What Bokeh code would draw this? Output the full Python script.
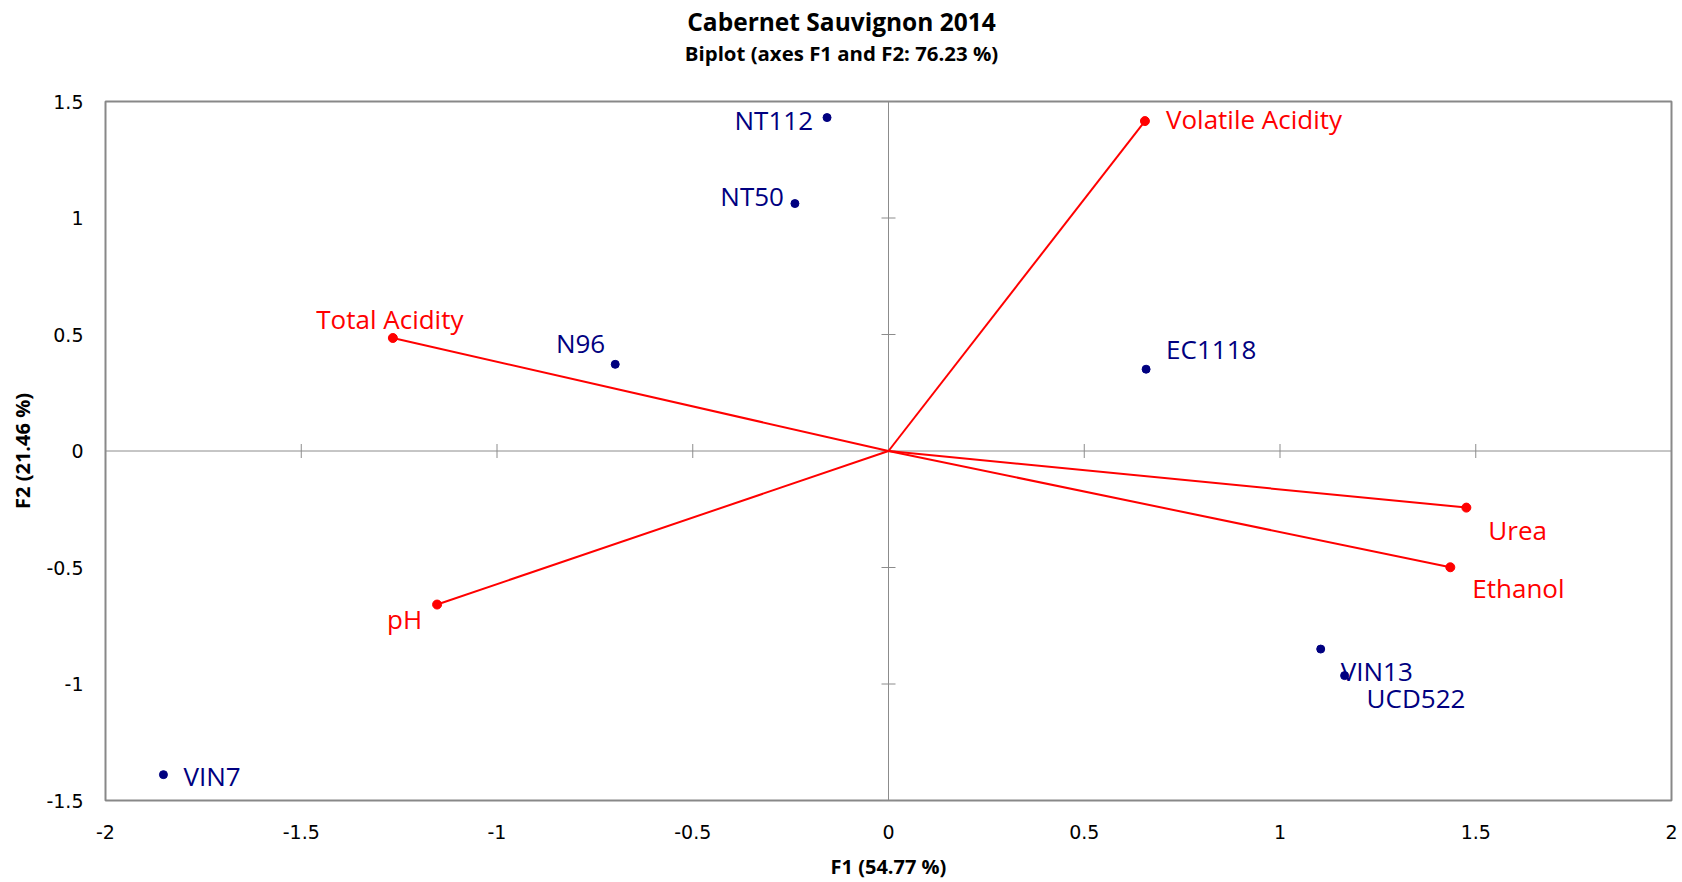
import math
from bokeh.plotting import figure
from bokeh.layouts import column
from bokeh.models import ColumnDataSource, Label, FixedTicker, Range1d, Span
from bokeh.core.properties import value
from bokeh.embed import file_html
from bokeh.resources import INLINE

# ---------------- data ----------------
title_text = "Cabernet Sauvignon 2014"
subtitle_text = "Biplot (axes F1 and F2: 76.23 %)"
x_title = "F1 (54.77 %)"
y_title = "F2 (21.46 %)"

obs_names = ["NT112", "NT50", "N96", "EC1118", "VIN13", "UCD522", "VIN7"]
obs_f1 = [-0.157, -0.239, -0.698, 0.658, 1.104, 1.165, -1.852]
obs_f2 = [1.431, 1.062, 0.372, 0.351, -0.850, -0.964, -1.389]

var_names = ["Volatile Acidity", "Total Acidity", "pH", "Urea", "Ethanol"]
var_f1 = [0.655, -1.266, -1.153, 1.476, 1.435]
var_f2 = [1.416, 0.485, -0.659, -0.243, -0.499]

x_ticks = [-2, -1.5, -1, -0.5, 0, 0.5, 1, 1.5, 2]
x_tick_labels = ["-2", "-1.5", "-1", "-0.5", "0", "0.5", "1", "1.5", "2"]
y_ticks = [-1.5, -1, -0.5, 0, 0.5, 1, 1.5]
y_tick_labels = ["-1.5", "-1", "-0.5", "0", "0.5", "1", "1.5"]

# ---------------- label placement (screen px, y down) ----------------
obs_align = ["right", "right", "right", "left", "left", "left", "left"]
obs_dx = [-14, -11, -10, 20, 20, 22, 20]
obs_dy = [2, -8, -21, -20, 22, 22, 1]

var_align = ["left", "center", "right", "left", "left"]
var_dx = [21, -3, -15, 22, 22]
var_dy = [-2, -19, 14, 22, 21]

# ---------------- styles ----------------
NAVY = "#000080"
RED = "#FF0000"
GRAY = "#8C8C8C"
LABEL_FONT = "Open Sans"
TICK_FONT = "DejaVu Sans"

W = 1680
TH = 70                      # height of the title strip
H = 882 - TH                 # height of the chart figure
BL, BR, BT, BB = 105, 9, 101 - TH, 82
PAGE_CX = 841                # horizontal centre of the page

# ---------------- title strip ----------------
t = figure(width=W, height=TH, output_backend="svg", toolbar_location=None,
           x_axis_location=None, y_axis_location=None,
           min_border_left=0, min_border_right=0, min_border_top=0, min_border_bottom=0)
t.grid.visible = False
t.outline_line_color = None
t.background_fill_color = "white"
t.border_fill_color = "white"
# the column aligns this strip's frame with the chart frame (left edge at BL)
t.add_layout(Label(x=PAGE_CX - BL, y=TH - 21, x_units="screen", y_units="screen",
                   text=title_text, text_align="center", text_baseline="middle",
                   text_font="Open Sans", text_font_style="bold", text_font_size="24.5px",
                   text_color="#000000"))
t.add_layout(Label(x=PAGE_CX - BL, y=TH - 52, x_units="screen", y_units="screen",
                   text=subtitle_text, text_align="center", text_baseline="middle",
                   text_font="Open Sans", text_font_style="bold", text_font_size="20.4px",
                   text_color="#000000"))

# ---------------- chart ----------------
p = figure(width=W, height=H, x_range=Range1d(-2, 2), y_range=Range1d(-1.5, 1.5),
           output_backend="svg", toolbar_location=None,
           min_border_left=BL, min_border_right=BR, min_border_top=BT, min_border_bottom=BB)
p.grid.visible = False
p.outline_line_color = "#888888"
p.outline_line_width = 2
p.background_fill_color = "white"
p.border_fill_color = "white"

for ax in (p.xaxis, p.yaxis):
    ax.axis_line_color = None
    ax.major_tick_line_color = None
    ax.minor_tick_line_color = None
    ax.major_tick_out = 0
    ax.major_tick_in = 0
    ax.minor_tick_out = 0
    ax.major_label_text_font = TICK_FONT
    ax.major_label_text_font_size = "19px"
    ax.major_label_text_color = "#000000"
    ax.axis_label_text_font = "Open Sans"
    ax.axis_label_text_font_style = "bold"
    ax.axis_label_text_font_size = "20px"
    ax.axis_label_text_color = "#000000"
p.xaxis.ticker = FixedTicker(ticks=x_ticks)
p.xaxis.major_label_overrides = dict(zip(x_ticks, x_tick_labels))
p.xaxis.major_label_standoff = 24
p.xaxis.axis_label = x_title
p.xaxis.axis_label_standoff = 11
p.yaxis.ticker = FixedTicker(ticks=y_ticks)
p.yaxis.major_label_overrides = dict(zip(y_ticks, y_tick_labels))
p.yaxis.major_label_standoff = 22
p.yaxis.axis_label = y_title
p.yaxis.axis_label_standoff = 7

# central axes with cross ticks
p.add_layout(Span(location=0, dimension="height", line_color=GRAY, line_width=1, level="underlay"))
p.add_layout(Span(location=0, dimension="width", line_color=GRAY, line_width=1, level="underlay"))
p.scatter(x=[0] * len(y_ticks), y=y_ticks, marker="dash", size=14, line_color=GRAY,
          line_width=1, level="underlay")
p.scatter(x=x_ticks, y=[0] * len(x_ticks), marker="dash", angle=math.pi / 2, size=14,
          line_color=GRAY, line_width=1, level="underlay")

# variable vectors
vsrc = ColumnDataSource(dict(x0=[0] * len(var_names), y0=[0] * len(var_names),
                             x=var_f1, y=var_f2, name=var_names,
                             align=var_align, dx=var_dx, dy=var_dy))
p.segment(x0="x0", y0="y0", x1="x", y1="y", source=vsrc, line_color=RED, line_width=2)
p.scatter(x="x", y="y", source=vsrc, size=9, fill_color=RED, line_color=RED)
p.text(x="x", y="y", text="name", source=vsrc, text_align="align", text_baseline="middle",
       x_offset="dx", y_offset="dy", text_font=value(LABEL_FONT), text_font_size="26px",
       text_color=RED)

# observations
osrc = ColumnDataSource(dict(x=obs_f1, y=obs_f2, name=obs_names,
                             align=obs_align, dx=obs_dx, dy=obs_dy))
p.scatter(x="x", y="y", source=osrc, size=8, fill_color=NAVY, line_color=NAVY)
p.text(x="x", y="y", text="name", source=osrc, text_align="align", text_baseline="middle",
       x_offset="dx", y_offset="dy", text_font=value(LABEL_FONT), text_font_size="26px",
       text_color=NAVY)

layout = column(t, p, spacing=0)
open("out.html", "w").write(file_html(layout, INLINE))
